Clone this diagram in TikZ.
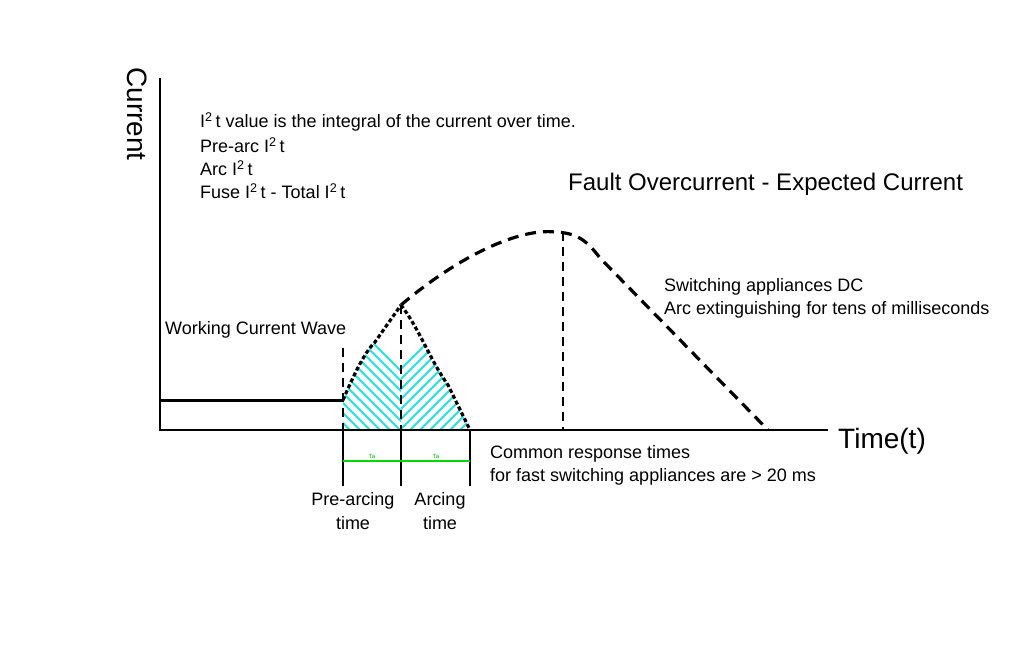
\documentclass[tikz,border=0pt]{standalone}
\usepackage{fontspec}
\setmainfont{Liberation Sans}
\definecolor{hcyan}{RGB}{40,225,225}
\begin{document}
\begin{tikzpicture}[x=1pt,y=-1pt,
  ax/.style={line width=2.2pt},
  fault/.style={line width=3.2pt,dash pattern=on 11pt off 7pt},
  env/.style={line width=3.2pt,dash pattern=on 4pt off 2.5pt},
  vd/.style={line width=2pt,dash pattern=on 9pt off 6pt},
  txt/.style={font=\fontsize{18}{21}\selectfont,anchor=west,inner sep=0pt},
  hatch/.style={hcyan,line width=2pt}]
\useasboundingbox (0,0) rectangle (1024,646);
\fill[white] (0,0) rectangle (1024,646);
% hatching
\begin{scope}
\clip (343,400) .. controls (355,372) and (365,352) .. (375,342) -- (401,305) -- (401,430) -- (343,430) -- cycle;
\foreach \i in {0,10,...,250} \draw[hatch] (300,270+\i) -- (410,380+\i);
\end{scope}
\begin{scope}
\clip (401,305) .. controls (420,330) and (430,360) .. (448,385) -- (470,430) -- (401,430) -- cycle;
\foreach \i in {0,10,...,250} \draw[hatch] (500,270+\i) -- (390,380+\i);
\end{scope}
% axes
\coordinate (O) at (160,430);
\coordinate (Ytop) at (160,78);
\coordinate (Xend) at (828,430);
\draw[ax] (Ytop) -- (O) -- (Xend);
\node[rotate=-90,inner sep=0pt,font=\fontsize{28}{30}\selectfont] (cur) at (137,114) {Current};
\node[inner sep=0pt,anchor=west,font=\fontsize{28}{30}\selectfont] (time) at (838,441) {Time(t)};
% working current
\coordinate (w0) at (160,400);
\coordinate (w1) at (343,400);
\draw[line width=3pt] (w0) -- (w1);
% envelope
\coordinate (pk) at (401,305);
\coordinate (end) at (470,430);
\draw[env] (w1) .. controls (355,372) and (365,352) .. (375,342) -- (pk);
\draw[env] (pk) .. controls (420,330) and (430,360) .. (448,385) -- (end);
% fault curve
\coordinate (fp) at (555,232);
\coordinate (fe) at (768,430);
\draw[fault] (pk) .. controls (460,255) and (520,228) .. (fp) .. controls (575,233) and (585,238) .. (600,258) -- (fe);
% vertical lines
\draw[vd] (343,348) -- (343,430);
\draw[vd] (401,305) -- (401,430);
\draw[vd] (563,232) -- (563,430);
\draw[vd] (343,430) -- (470,430);
\draw[line width=2pt] (343,430) -- (343,486) (401,430) -- (401,486) (470,430) -- (470,486);
% green bar
\coordinate (g0) at (343,461);
\coordinate (g1) at (470,461);
\draw[green!85!black,line width=2.6pt] (g0) -- (g1);
\node[green!70!black,font=\fontsize{6}{7}\selectfont] at (372,456) {Ta};
\node[green!70!black,font=\fontsize{6}{7}\selectfont] at (436,456) {Ta};
% texts
\node[txt] at (200,122) {I\textsuperscript{2}\,t value is the integral of the current over time.};
\node[txt] at (200,145) {Pre-arc I\textsuperscript{2}\,t};
\node[txt] at (200,168) {Arc I\textsuperscript{2}\,t};
\node[txt] at (200,191) {Fuse I\textsuperscript{2}\,t - Total I\textsuperscript{2}\,t};
\node[txt,font=\fontsize{24}{27}\selectfont] at (568,184) {Fault Overcurrent - Expected Current};
\node[txt] at (664,287) {Switching appliances DC};
\node[txt] at (664,310) {Arc extinguishing for tens of milliseconds};
\node[txt] at (165,330) {Working Current Wave};
\node[txt] at (490,454) {Common response times};
\node[txt] at (490,477) {for fast switching appliances are > 20 ms};
\node[font=\fontsize{18}{24}\selectfont,align=center] at (353,511) {Pre-arcing\\time};
\node[font=\fontsize{18}{24}\selectfont,align=center] at (440,511) {Arcing\\time};
\end{tikzpicture}
\end{document}
